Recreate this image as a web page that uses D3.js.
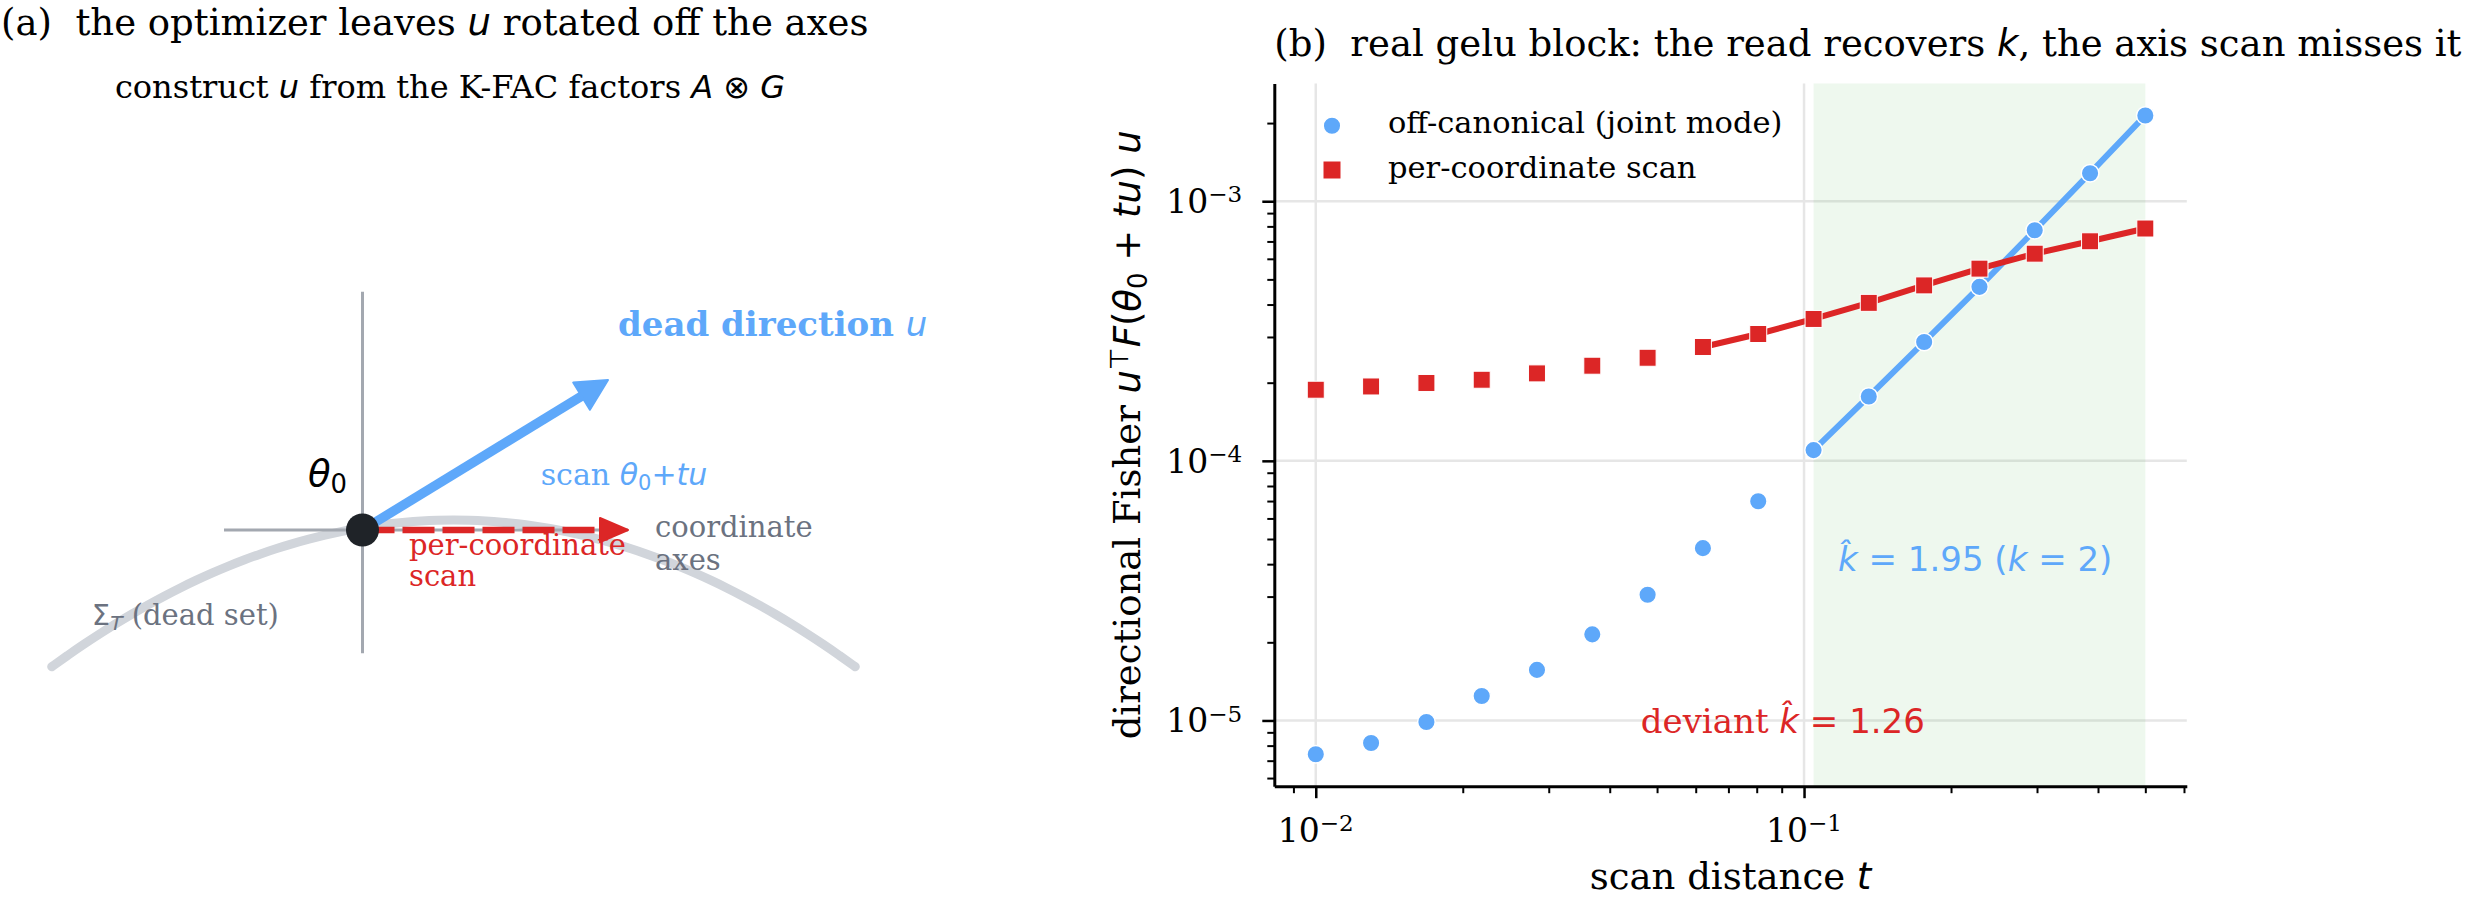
<!DOCTYPE html>
<html><head><meta charset="utf-8">
<script src="https://cdn.jsdelivr.net/npm/d3@7"></script>
<style>body{margin:0;background:#fff} text{white-space:pre}</style>
</head><body><script>
// ---------------- data ----------------
const tValues = [0.0100, 0.01298, 0.01685, 0.02187, 0.02838, 0.03684, 0.04782, 0.06207,
                 0.08057, 0.1046, 0.1357, 0.1762, 0.2287, 0.2968, 0.3853, 0.5000];
const offCanonical = [7.41e-6, 8.19e-6, 9.87e-6, 1.243e-5, 1.566e-5, 2.146e-5, 3.05e-5, 4.61e-5,
                      6.99e-5, 1.10e-4, 1.77e-4, 2.87e-4, 4.68e-4, 7.73e-4, 1.282e-3, 2.14e-3];
const perCoordinate = [1.879e-4, 1.934e-4, 1.995e-4, 2.053e-4, 2.172e-4, 2.325e-4, 2.495e-4, 2.745e-4,
                       3.08e-4, 3.52e-4, 4.06e-4, 4.74e-4, 5.50e-4, 6.28e-4, 7.01e-4, 7.85e-4];
const blueFitStart = 9;   // first point of the joint-mode fit window
const redFitStart = 7;    // first point of the per-coordinate fit window
const seriesNames = ['off-canonical (joint mode)', 'per-coordinate scan'];
const xTickExps = [-2, -1];
const yTickExps = [-5, -4, -3];
const blueFitLabel = {t: 0.1174, v: 3.75e-5, k: '1.95', kTrue: '2'};
const redFitLabel = {t: 0.0463, v: 8.98e-6, k: '1.26'};

// ---------------- setup ----------------
const W = 2478, H = 899;
const SERIF = "'DejaVu Serif', serif", SANS = "'DejaVu Sans', sans-serif";
const BLUE = '#5ea8fa', RED = '#dc2626', GRAYTXT = '#6b7280', ARC = '#d1d5db', AXG = '#a3a8b0', DOT = '#1f2328';
const svg = d3.select('body').append('svg').attr('width', W).attr('height', H).style('display', 'block');
svg.append('rect').attr('width', W).attr('height', H).attr('fill', '#fff');

// rich text: parts = [[text, flags]] flags: i = italic sans, s = upright sans, _ = sub, ^ = sup
function rich(g, x, y, parts, o) {
  const fs = o.size;
  const t = g.append('text').attr('x', x).attr('y', y).attr('font-size', fs)
    .attr('font-family', SERIF).attr('fill', o.fill || '#000').attr('text-anchor', o.anchor || 'start');
  if (o.weight) t.attr('font-weight', o.weight);
  if (o.rotate) t.attr('transform', `rotate(${o.rotate},${x},${y})`);
  let cur = 0;
  parts.forEach(([txt, fl]) => {
    fl = fl || '';
    const ts = t.append('tspan').text(txt);
    if (fl.includes('i')) ts.attr('font-family', SANS).attr('font-style', 'italic').attr('font-weight', 'normal');
    if (fl.includes('s')) ts.attr('font-family', SANS).attr('font-weight', 'normal');
    let off = 0;
    if (fl.includes('_')) { off = 0.18 * fs; ts.attr('font-size', 0.7 * fs); }
    if (fl.includes('^')) { off = -0.33 * fs; ts.attr('font-size', 0.7 * fs); }
    if (off !== cur) { ts.attr('dy', off - cur); cur = off; }
  });
  return t;
}

// ================= panel (a) =================
const gA = svg.append('g');
rich(gA, 1, 35, [['(a)  the optimizer leaves '], ['u', 'i'], [' rotated off the axes']], {size: 37});
rich(gA, 450, 98, [['construct '], ['u', 'i'], [' from the K-FAC factors '], ['A', 'i'], [' ⊗ ', 's'], ['G', 'i']],
     {size: 32, anchor: 'middle'});

const ax = d3.scaleLinear().domain([-1, 1]).range([262.5, 462.5]);
const ay = d3.scaleLinear().domain([-1, 1]).range([630, 430]);
const diag = {vAxis: [-1.233, 2.383], hAxis: [-1.385, 2.655], arcX: [-3.108, 4.928],
              arcPeak: [0.91, 0.10], arcCurv: 0.0909, blueTip: [2.455, 1.50], redTip: [2.655, 0]};
// dead set arc
const arcPts = d3.range(0, 1.0001, 0.02).map(f => {
  const xx = diag.arcX[0] + f * (diag.arcX[1] - diag.arcX[0]);
  return [xx, diag.arcPeak[1] - diag.arcCurv * (xx - diag.arcPeak[0]) ** 2];
});
gA.append('path').attr('d', d3.line().x(d => ax(d[0])).y(d => ay(d[1])).curve(d3.curveBasis)(arcPts))
  .attr('fill', 'none').attr('stroke', ARC).attr('stroke-width', 9).attr('stroke-linecap', 'round');
// coordinate axes
gA.append('line').attr('x1', ax(0)).attr('x2', ax(0)).attr('y1', ay(diag.vAxis[0])).attr('y2', ay(diag.vAxis[1]))
  .attr('stroke', AXG).attr('stroke-width', 3);
gA.append('line').attr('x1', ax(diag.hAxis[0])).attr('x2', ax(diag.hAxis[1])).attr('y1', ay(0)).attr('y2', ay(0))
  .attr('stroke', AXG).attr('stroke-width', 3);

function arrow(g, tip, color, width, headLen, headHalf, dash) {
  const x0 = ax(0), y0 = ay(0), x1 = ax(tip[0]), y1 = ay(tip[1]);
  const L = Math.hypot(x1 - x0, y1 - y0), ux = (x1 - x0) / L, uy = (y1 - y0) / L;
  const bx = x1 - ux * headLen, by = y1 - uy * headLen;
  const sh = g.append('line').attr('x1', x0).attr('y1', y0).attr('x2', bx + ux * 2).attr('y2', by + uy * 2)
    .attr('stroke', color).attr('stroke-width', width);
  if (dash) sh.attr('stroke-dasharray', dash);
  g.append('path').attr('d', `M${x1},${y1}L${bx - uy * headHalf},${by + ux * headHalf}L${bx + uy * headHalf},${by - ux * headHalf}Z`)
    .attr('fill', color).attr('stroke', color).attr('stroke-width', 2).attr('stroke-linejoin', 'round');
}
arrow(gA, diag.redTip, RED, 6.5, 28, 12, '32,8');
arrow(gA, diag.blueTip, BLUE, 9.5, 31, 16);
gA.append('circle').attr('cx', ax(0)).attr('cy', ay(0)).attr('r', 16.5).attr('fill', DOT);

rich(gA, ax(-0.155), ay(0.44), [['θ', 'i'], ['0', 's_']], {size: 37, anchor: 'end'});
rich(gA, ax(2.555), ay(1.94), [['dead direction '], ['u', 'i']], {size: 34, weight: 'bold', fill: BLUE});
rich(gA, ax(1.782), ay(0.45), [['scan '], ['θ', 'i'], ['0', 's_'], ['+', 's'], ['tu', 'i']], {size: 30, fill: BLUE});
rich(gA, ax(2.925), ay(-0.073), [['coordinate']], {size: 29, fill: GRAYTXT});
rich(gA, ax(2.925), ay(-0.40), [['axes']], {size: 29, fill: GRAYTXT});
rich(gA, ax(0.465), ay(-0.25), [['per-coordinate']], {size: 29, fill: RED});
rich(gA, ax(0.465), ay(-0.56), [['scan']], {size: 29, fill: RED});
rich(gA, ax(-2.707), ay(-0.95), [['Σ', 's'], ['T', 'i_'], [' (dead set)']], {size: 29, fill: GRAYTXT});

// ================= panel (b) =================
const gB = svg.append('g');
const plot = {left: 1274.3, right: 2186.8, top: 83.5, bottom: 786.2};
const lx = d3.extent(tValues).map(Math.log10), px = 0.05 * (lx[1] - lx[0]);
const x = d3.scaleLog().domain([10 ** (lx[0] - px), 10 ** (lx[1] + px)]).range([plot.left, plot.right]);
const ly = d3.extent(offCanonical.concat(perCoordinate)).map(Math.log10), py = 0.05 * (ly[1] - ly[0]);
const y = d3.scaleLog().domain([10 ** (ly[0] - py), 10 ** (ly[1] + py)]).range([plot.bottom, plot.top]);

const xMajor = xTickExps.map(e => 10 ** e), yMajor = yTickExps.map(e => 10 ** e);
const isMajor = v => Math.abs(Math.log10(v) - Math.round(Math.log10(v))) < 1e-9;
const xMinor = x.ticks().filter(v => !isMajor(v));
const yMinor = y.ticks().filter(v => !isMajor(v));

// grid
gB.selectAll('.gx').data(xMajor).join('line').attr('x1', d => x(d)).attr('x2', d => x(d))
  .attr('y1', plot.top).attr('y2', plot.bottom).attr('stroke', '#e6e6e6').attr('stroke-width', 2.5);
gB.selectAll('.gy').data(yMajor).join('line').attr('y1', d => y(d)).attr('y2', d => y(d))
  .attr('x1', plot.left).attr('x2', plot.right).attr('stroke', '#e6e6e6').attr('stroke-width', 2.5);
// fit window shading
gB.append('rect').attr('x', x(tValues[blueFitStart])).attr('width', x(tValues[tValues.length - 1]) - x(tValues[blueFitStart]))
  .attr('y', plot.top).attr('height', plot.bottom - plot.top).attr('fill', '#2ca02c').attr('opacity', 0.08);

const pts = vals => tValues.map((t, i) => ({t, v: vals[i]}));
const line = d3.line().x(d => x(d.t)).y(d => y(d.v));
const blue = pts(offCanonical), red = pts(perCoordinate);
gB.append('path').attr('d', line(blue.slice(blueFitStart))).attr('fill', 'none').attr('stroke', BLUE).attr('stroke-width', 6);
gB.selectAll('.bp').data(blue).join('circle').attr('cx', d => x(d.t)).attr('cy', d => y(d.v)).attr('r', 8.8)
  .attr('fill', BLUE).attr('stroke', '#fff').attr('stroke-width', 1.5);
gB.append('path').attr('d', line(red.slice(redFitStart))).attr('fill', 'none').attr('stroke', RED).attr('stroke-width', 6);
gB.selectAll('.rp').data(red).join('rect').attr('x', d => x(d.t) - 8.5).attr('y', d => y(d.v) - 8.5)
  .attr('width', 17).attr('height', 17).attr('fill', RED).attr('stroke', '#fff').attr('stroke-width', 1);

// axes
function styleAxis(g, w) { g.selectAll('.tick line').attr('stroke', '#000').attr('stroke-width', w); }
const xa = gB.append('g').attr('transform', `translate(0,${plot.bottom})`)
  .call(d3.axisBottom(x).tickValues(xMajor).tickSize(12).tickSizeOuter(0).tickFormat(''));
xa.select('.domain').attr('stroke', '#000').attr('stroke-width', 3); styleAxis(xa, 2.5);
const xm = gB.append('g').attr('transform', `translate(0,${plot.bottom})`)
  .call(d3.axisBottom(x).tickValues(xMinor).tickSize(7).tickFormat(''));
xm.select('.domain').remove(); styleAxis(xm, 2);
const ya = gB.append('g').attr('transform', `translate(${plot.left},0)`)
  .call(d3.axisLeft(y).tickValues(yMajor).tickSize(12).tickSizeOuter(0).tickFormat(''));
ya.select('.domain').attr('stroke', '#000').attr('stroke-width', 3); styleAxis(ya, 2.5);
const ym = gB.append('g').attr('transform', `translate(${plot.left},0)`)
  .call(d3.axisLeft(y).tickValues(yMinor).tickSize(7).tickFormat(''));
ym.select('.domain').remove(); styleAxis(ym, 2);

xTickExps.forEach(e => rich(gB, x(10 ** e), 841.7, [['10'], ['−' + Math.abs(e), '^']], {size: 33, anchor: 'middle'}));
yTickExps.forEach(e => rich(gB, plot.left - 32, y(10 ** e) + 12, [['10'], ['−' + Math.abs(e), '^']], {size: 33, anchor: 'end'}));

// labels
rich(gB, plot.left, 56, [['(b)  real gelu block: the read recovers '], ['k', 'i'], [', the axis scan misses it']], {size: 37});
rich(gB, (plot.left + plot.right) / 2, 889, [['scan distance '], ['t', 'i']], {size: 37, anchor: 'middle'});
rich(gB, 1140, (plot.top + plot.bottom) / 2,
     [['directional Fisher '], ['u', 'i'], ['⊤', 's^'], ['F', 'i'], ['(', 's'], ['θ', 'i'], ['0', 's_'],
      [' + ', 's'], ['tu', 'i'], [')', 's'], [' ', 's'], ['u', 'i']],
     {size: 37, anchor: 'middle', rotate: -90});

// legend
const legY = [125.7, 170], legX = 1332;
gB.append('circle').attr('cx', legX).attr('cy', legY[0]).attr('r', 8.8).attr('fill', BLUE).attr('stroke', '#fff').attr('stroke-width', 1.5);
gB.append('rect').attr('x', legX - 8.5).attr('y', legY[1] - 8.5).attr('width', 17).attr('height', 17).attr('fill', RED);
seriesNames.forEach((n, i) => rich(gB, 1388, legY[i] + 7.6, [[n]], {size: 30.5}));

// fit annotations
rich(gB, x(blueFitLabel.t), y(blueFitLabel.v),
     [['k\u0302', 'i'], [' = ' + blueFitLabel.k + ' (', 's'], ['k', 'i'], [' = ' + blueFitLabel.kTrue + ')', 's']],
     {size: 34, fill: BLUE});
rich(gB, x(redFitLabel.t), y(redFitLabel.v), [['deviant '], ['k\u0302', 'i'], [' = ' + redFitLabel.k, 's']],
     {size: 34, fill: RED});
</script></body></html>
